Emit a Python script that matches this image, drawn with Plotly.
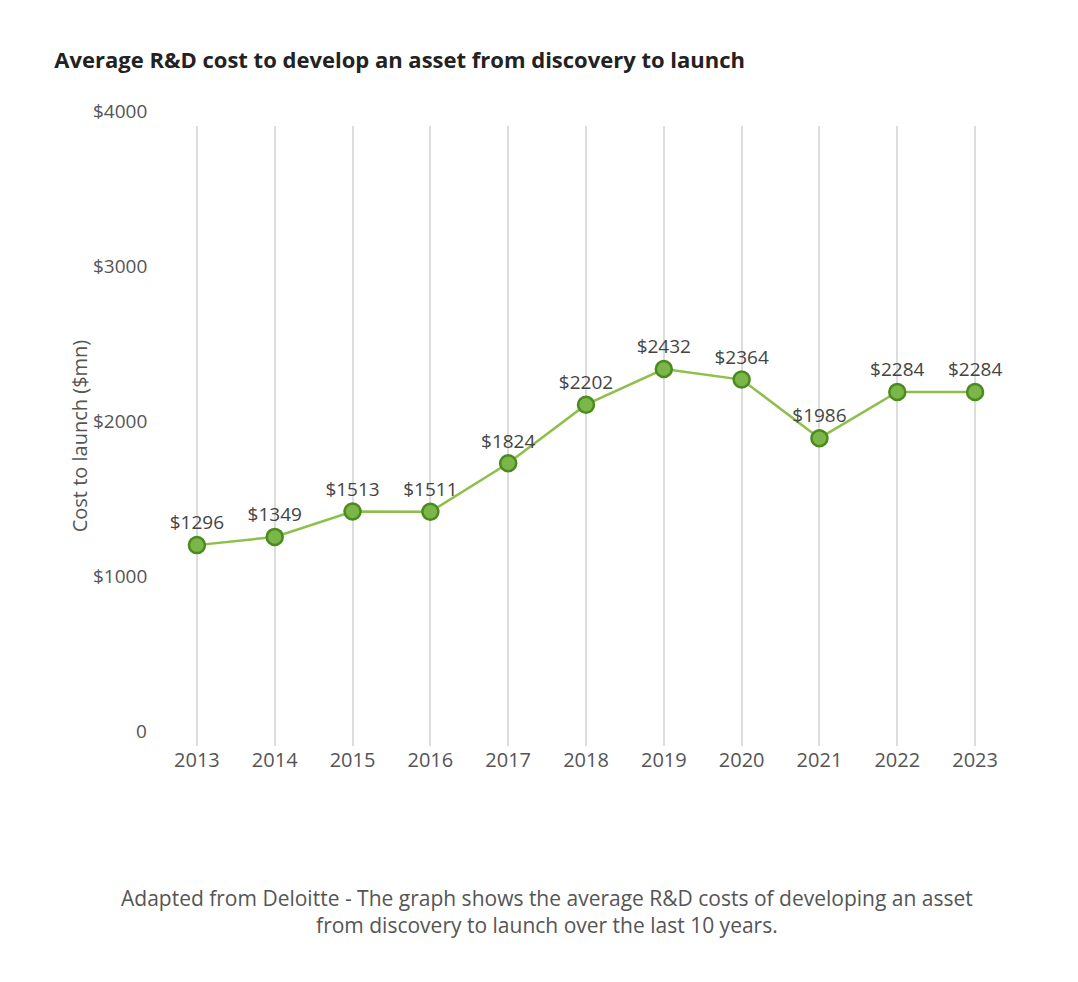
import plotly.graph_objects as go

years = ["2013","2014","2015","2016","2017","2018","2019","2020","2021","2022","2023"]
costs = [1296,1349,1513,1511,1824,2202,2432,2364,1986,2284,2284]
ytick_vals = [0,1000,2000,3000,4000]
ytick_text = ["0","$1000","$2000","$3000","$4000"]

fig = go.Figure(go.Scatter(
    x=years, y=costs, mode="lines+markers+text",
    text=[f"${v}" for v in costs], textposition="top center",
    textfont=dict(size=19, color="#444"),
    line=dict(color="#8dc04a", width=2.5),
    marker=dict(size=16, color="#7ab648", line=dict(color="#4a8a1f", width=2.5)),
    cliponaxis=False))

anns = [dict(x=-0.01, xref="paper", xanchor="right", y=v, yref="y", yshift=15,
             text=t, showarrow=False, font=dict(size=19, color="#555")) for v, t in zip(ytick_vals, ytick_text)]
anns.append(dict(x=0.4545, xref="paper", y=-0.22, yref="paper", yanchor="top",
                 text="Adapted from Deloitte - The graph shows the average R&D costs of developing an asset<br>from discovery to launch over the last 10 years.",
                 showarrow=False, font=dict(size=21, color="#555")))
anns.append(dict(x=-0.11, xref="paper", y=0.5, yref="paper", textangle=-90,
                 text="Cost to launch ($mn)", showarrow=False, font=dict(size=20, color="#555")))

fig.update_layout(
    width=1078, height=982, margin=dict(l=150, r=72, t=118, b=244),
    paper_bgcolor="white", plot_bgcolor="white",
    font=dict(family="Open Sans", color="#555"),
    title=dict(text="<b>Average R&D cost to develop an asset from discovery to launch</b>",
               x=0.043, xanchor="left", y=0.947, yanchor="middle", font=dict(size=22, color="#222")),
    xaxis=dict(type="category", range=[-0.5, 10.5], showgrid=True, gridcolor="#dcdcdc", gridwidth=1.5,
               tickfont=dict(size=20, color="#555"), ticks="", zeroline=False),
    yaxis=dict(range=[0, 4000], showgrid=False, showticklabels=False, zeroline=False),
    annotations=anns, showlegend=False)
fig.write_html("out.html")
